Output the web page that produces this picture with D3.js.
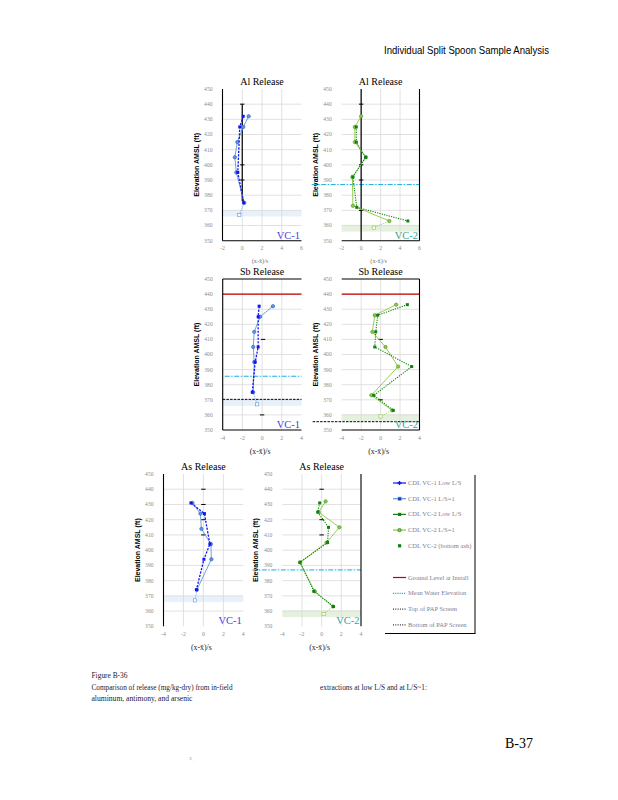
<!DOCTYPE html>
<html>
<head>
<meta charset="utf-8">
<script src="https://cdn.jsdelivr.net/npm/d3@7"></script>
<style>
  body { margin: 0; background: #fff; }
  svg { display: block; }
</style>
</head>
<body>
<script>
// tick labels
var elevTicks = [350, 360, 370, 380, 390, 400, 410, 420, 430, 440, 450];
var alTicks = [-2, 0, 2, 4, 6];
var sbTicks = [-4, -2, 0, 2, 4];

// series values: [ (x - mean)/s , elevation ft ]
var alVC1Low = [[0.1, 432], [-0.25, 425], [-0.45, 395], [0.15, 375]];
var alVC1Ls1 = [[0.65, 432], [0.1, 425], [-0.5, 415], [-0.75, 405], [-0.6, 395], [0.2, 375]];
var alVC1Bot = [[-0.3, 367]];
var alVC2Low = [[-0.5, 425], [-0.5, 415], [0.45, 405], [-0.85, 392], [-0.45, 372], [4.8, 363]];
var alVC2Ls1 = [[0, 432], [-0.65, 425], [-0.65, 415], [0.5, 405], [-0.9, 392], [-0.85, 373], [2.9, 363]];
var alVC2Bot = [[1.3, 358.6]];

var sbVC1Low = [[-0.3, 432], [-0.4, 425], [-0.4, 405], [-0.7, 395], [-1.0, 375]];
var sbVC1Ls1 = [[1.1, 432], [-0.2, 425], [-0.8, 415], [-0.9, 405], [-0.8, 395], [-0.9, 375]];
var sbVC1Bot = [[-0.5, 367]];
var sbVC2Low = [[2.75, 433], [-0.3, 426], [-0.5, 415], [-0.6, 405], [3.2, 392], [-0.7, 373], [1.3, 363]];
var sbVC2Ls1 = [[1.6, 433], [-0.6, 426], [-0.85, 415], [0.5, 405], [1.8, 392], [-0.95, 373], [1.2, 363]];
var sbVC2Bot = [[0, 359]];

var asVC1Low = [[-1.25, 431], [0.1, 424], [0.65, 404], [0.05, 394], [-0.7, 374]];
var asVC1Ls1 = [[-1.1, 431], [-0.3, 424], [-0.2, 414], [0.75, 404], [0.8, 394], [-0.65, 374]];
var asVC1Bot = [[-0.85, 367]];
var asVC2Low = [[-0.2, 431], [-0.4, 425], [0.7, 415], [0.6, 405], [-2.2, 392], [-0.8, 373], [1.2, 363]];
var asVC2Ls1 = [[0.4, 432], [-0.3, 425], [1.8, 415], [0.5, 405], [-2.2, 392], [-0.7, 373], [1.15, 363]];
var asVC2Bot = [[0.2, 358]];

// short black dash marks
var alVC1Marks = [[0, 440], [0, 400], [0, 390]];
var alVC2Marks = [[0, 440], [0, 400], [0, 390], [0, 370]];
var sbVC1Marks = [[0.1, 410], [0, 360]];
var sbVC2Marks = [[0, 410], [0, 370]];
var asVC1Marks = [[0, 440], [0, 430], [0, 420], [0, 410]];
var asVC2Marks = [[0, 440], [0, 420], [0, 410]];

// reference elevations
var groundLevel = 440;
var waterVC1 = 385.6;
var waterVC2 = 387;
var papTopVC1 = 370.3;
var papBottomVC2 = 355.5;
var bandVC1 = [366, 370];
var bandVC2 = [356, 360.5];

var legendLabels = [
  "CDL  VC-1 Low L/S", "CDL  VC-1 L/S=1", "CDL  VC-2 Low L/S", "CDL  VC-2 L/S=1",
  "CDL  VC-2 (bottom ash)", "Ground Level at Install", "Mean Water Elevation",
  "Top of PAP Screen", "Bottom of PAP Screen"
];

var width = 618, height = 800;
var svg = d3.select("body").append("svg").attr("width", width).attr("height", height);

var C = {
  low1: "#1414f0", ls1: "#5b96dc", low2: "#118011", ls2: "#8dc63f",
  red: "#c00000", cyan: "#16aee8", grid: "#d9d9d9", tick: "#8c8c8c"
};

// header
svg.append("text").attr("x", 549).attr("y", 54).attr("text-anchor", "end")
  .attr("textLength", 165).attr("lengthAdjust", "spacingAndGlyphs")
  .style("font-family", "Liberation Sans Narrow, Liberation Sans, sans-serif")
  .style("font-size", "10.5px").text("Individual Split Spoon Sample Analysis");

var panels = [
  { title: "Al Release", well: 1, x0: 222.5, x1: 301.5, y0: 89, y1: 240.7, dom: [-2, 6], ticks: alTicks,
    low: alVC1Low, ls1: alVC1Ls1, bot: alVC1Bot, marks: alVC1Marks, zero: [440, 376],
    band: bandVC1, sides: ["left", "bottom"], small: true },
  { title: "Al Release", well: 2, x0: 341.7, x1: 419.5, y0: 89, y1: 240.7, dom: [-2, 6], ticks: alTicks,
    low: alVC2Low, ls1: alVC2Ls1, bot: alVC2Bot, marks: alVC2Marks, zero: [450, 350],
    band: bandVC2, water: waterVC2, sides: ["right", "bottom"], small: true },
  { title: "Sb Release", well: 1, x0: 222.7, x1: 301.5, y0: 279, y1: 430, dom: [-4, 4], ticks: sbTicks,
    low: sbVC1Low, ls1: sbVC1Ls1, bot: sbVC1Bot, marks: sbVC1Marks,
    band: bandVC1, water: waterVC1, ground: groundLevel, pap: papTopVC1, sides: ["left", "top", "bottom"] },
  { title: "Sb Release", well: 2, x0: 341.7, x1: 419.5, y0: 279, y1: 430, dom: [-4, 4], ticks: sbTicks,
    low: sbVC2Low, ls1: sbVC2Ls1, bot: sbVC2Bot, marks: sbVC2Marks,
    band: bandVC2, ground: groundLevel, pap: papBottomVC2, sides: ["right", "top", "bottom"] },
  { title: "As Release", well: 1, x0: 163.5, x1: 243.3, y0: 474, y1: 626.3, dom: [-4, 4], ticks: sbTicks,
    low: asVC1Low, ls1: asVC1Ls1, bot: asVC1Bot, marks: asVC1Marks,
    band: bandVC1, sides: ["left"] },
  { title: "As Release", well: 2, x0: 282.3, x1: 361, y0: 474, y1: 626.3, dom: [-4, 4], ticks: sbTicks,
    low: asVC2Low, ls1: asVC2Ls1, bot: asVC2Bot, marks: asVC2Marks,
    band: bandVC2, water: waterVC2, sides: ["right"] }
];

panels.forEach(drawPanel);

function drawPanel(p) {
  var g = svg.append("g");
  var x = d3.scaleLinear().domain(p.dom).range([p.x0, p.x1]);
  var y = d3.scaleLinear().domain([350, 450]).range([p.y1, p.y0]);
  var lowCol = p.well === 1 ? C.low1 : C.low2;
  var lsCol = p.well === 1 ? C.ls1 : C.ls2;

  // band
  g.append("rect").attr("x", p.x0).attr("width", p.x1 - p.x0)
    .attr("y", y(p.band[1])).attr("height", y(p.band[0]) - y(p.band[1]))
    .attr("fill", p.well === 1 ? "#e8f0fa" : "#e5f0de");

  // grid
  g.selectAll(".hg").data(elevTicks.slice(1, -1)).enter().append("line")
    .attr("x1", p.x0).attr("x2", p.x1).attr("y1", y).attr("y2", y)
    .attr("stroke", C.grid).attr("stroke-width", 0.8);
  g.selectAll(".vg").data(p.ticks.slice(1, -1)).enter().append("line")
    .attr("y1", p.y0).attr("y2", p.y1).attr("x1", x).attr("x2", x)
    .attr("stroke", C.grid).attr("stroke-width", 0.8);

  // ticks
  g.selectAll(".yl").data(elevTicks).enter().append("text")
    .attr("x", p.x0 - 10).attr("y", function (d) { return y(d) + 1.9; })
    .attr("text-anchor", "end").attr("fill", C.tick)
    .style("font-family", "Liberation Serif, serif").style("font-size", "5.6px")
    .text(function (d) { return d; });
  g.selectAll(".xl").data(p.ticks).enter().append("text")
    .attr("x", x).attr("y", p.y1 + 9.5).attr("text-anchor", "middle").attr("fill", C.tick)
    .style("font-family", "Liberation Serif, serif").style("font-size", "5.8px")
    .text(function (d) { return d; });

  // titles
  g.append("text").attr("x", (p.x0 + p.x1) / 2).attr("y", p.y0 - 4.5).attr("text-anchor", "middle")
    .style("font-family", "Liberation Serif, serif").style("font-size", "10px").text(p.title);
  g.append("text").attr("x", (p.x0 + p.x1) / 2 - 2).attr("y", p.y1 + (p.small ? 22 : 24))
    .attr("text-anchor", "middle").attr("fill", p.small ? "#777" : "#222")
    .style("font-family", "Liberation Serif, serif").style("font-size", p.small ? "6.2px" : "7.8px")
    .text("(x-x\u0304)/s");
  var cy = (p.y0 + p.y1) / 2;
  g.append("text").attr("transform", "translate(" + (p.x0 - 24) + "," + cy + ") rotate(-90)")
    .attr("text-anchor", "middle")
    .style("font-family", "Liberation Sans, sans-serif").style("font-weight", "bold").style("font-size", "7px")
    .text("Elevation AMSL (ft)");

  // reference lines
  if (p.ground !== undefined) {
    g.append("line").attr("x1", p.x0).attr("x2", p.x1).attr("y1", y(p.ground)).attr("y2", y(p.ground))
      .attr("stroke", C.red).attr("stroke-width", 1.2);
  }
  if (p.water !== undefined) {
    var wx = p.well === 2 ? p.x0 - 30 : p.x0 + 2;
    g.append("line").attr("x1", wx).attr("x2", p.x1).attr("y1", y(p.water)).attr("y2", y(p.water))
      .attr("stroke", C.cyan).attr("stroke-width", 1).attr("stroke-dasharray", "5,1.5,1.5,1.5");
  }
  if (p.pap !== undefined) {
    var px = p.well === 2 ? p.x0 - 29 : p.x0;
    g.append("line").attr("x1", px).attr("x2", p.x1).attr("y1", y(p.pap)).attr("y2", y(p.pap))
      .attr("stroke", "#000").attr("stroke-width", 1).attr("stroke-dasharray", "2.5,1.2");
  }

  // zero line and dash marks
  if (p.zero) {
    g.append("line").attr("x1", x(0)).attr("x2", x(0)).attr("y1", y(p.zero[0])).attr("y2", y(p.zero[1]))
      .attr("stroke", "#000").attr("stroke-width", 1.2);
  }
  g.selectAll(".mk").data(p.marks).enter().append("line")
    .attr("x1", function (d) { return x(d[0]) - 2.2; }).attr("x2", function (d) { return x(d[0]) + 2.2; })
    .attr("y1", function (d) { return y(d[1]); }).attr("y2", function (d) { return y(d[1]); })
    .attr("stroke", "#000").attr("stroke-width", 1);

  // borders
  var sides = {
    left: [p.x0, p.y0, p.x0, p.y1], right: [p.x1, p.y0, p.x1, p.y1],
    top: [p.x0, p.y0, p.x1, p.y0], bottom: [p.x0, p.y1, p.x1, p.y1]
  };
  p.sides.forEach(function (s) {
    var c = sides[s];
    g.append("line").attr("x1", c[0]).attr("y1", c[1]).attr("x2", c[2]).attr("y2", c[3])
      .attr("stroke", "#000").attr("stroke-width", 1.1);
  });

  var line = d3.line().x(function (d) { return x(d[0]); }).y(function (d) { return y(d[1]); });

  // bottom sample: dotted link from the deepest L/S=1 point
  var last = p.ls1[p.ls1.length - 1];
  g.append("path").attr("d", line([last, p.bot[0]])).attr("fill", "none")
    .attr("stroke", lsCol).attr("stroke-width", 0.8).attr("stroke-dasharray", "1,1");
  g.selectAll(".bt").data(p.bot).enter().append("rect")
    .attr("x", function (d) { return x(d[0]) - 1.6; }).attr("y", function (d) { return y(d[1]) - 1.6; })
    .attr("width", 3.2).attr("height", 3.2).attr("fill", "#fff").attr("stroke", lsCol).attr("stroke-width", 0.6);

  // L/S=1 series
  g.append("path").attr("d", line(p.ls1)).attr("fill", "none").attr("stroke", lsCol).attr("stroke-width", 0.9);
  g.selectAll(".ls").data(p.ls1).enter().append("circle")
    .attr("cx", function (d) { return x(d[0]); }).attr("cy", function (d) { return y(d[1]); })
    .attr("r", 1.7).attr("fill", lsCol).attr("stroke", p.well === 1 ? "#2b5fc0" : "#4a9a2a").attr("stroke-width", 0.6);

  // Low L/S series
  g.append("path").attr("d", line(p.low)).attr("fill", "none").attr("stroke", lowCol)
    .attr("stroke-width", p.well === 1 ? 1.3 : 1.1).attr("stroke-dasharray", p.well === 1 ? "2.2,1.3" : "1.2,1.2");
  g.selectAll(".lo").data(p.low).enter().append("rect")
    .attr("x", function (d) { return x(d[0]) - 1.5; }).attr("y", function (d) { return y(d[1]) - 1.5; })
    .attr("width", 3).attr("height", 3).attr("fill", lowCol);

  // well label
  g.append("text").attr("x", p.x1 - 1.5).attr("y", p.y1 - 2).attr("text-anchor", "end")
    .attr("fill", p.well === 1 ? "#4a3ee0" : "#33a596")
    .style("font-family", "Liberation Serif, serif").style("font-size", "10.5px")
    .text(p.well === 1 ? "VC-1" : "VC-2");
}

// legend
var leg = svg.append("g");
var legKinds = ["low1", "ls1", "low2", "ls2", "ash", "red", "cyan", "dot", "dot"];
legendLabels.forEach(function (lab, i) {
  var yy = i < 5 ? 483 + i * 15.7 : 577.5 + (i - 5) * 15.8;
  var k = legKinds[i];
  var col = { low1: C.low1, ls1: C.ls1, low2: C.low2, ls2: C.ls2, ash: C.low2, red: C.red, cyan: C.cyan, dot: "#000" }[k];
  if (k !== "ash") {
    leg.append("line").attr("x1", 393).attr("x2", 406).attr("y1", yy).attr("y2", yy)
      .attr("stroke", col).attr("stroke-width", k === "dot" ? 1 : 1.2)
      .attr("stroke-dasharray", k === "cyan" ? "1.2,1" : (k === "dot" ? "1,1.3" : null));
  }
  if (k === "low1") {
    leg.append("path").attr("transform", "translate(399.5," + yy + ")")
      .attr("d", d3.symbol().type(d3.symbolCross).size(10)()).attr("fill", col);
  } else if (k === "ls1") {
    leg.append("rect").attr("x", 398).attr("y", yy - 1.6).attr("width", 3.2).attr("height", 3.2)
      .attr("fill", "#2030c8").attr("stroke", col).attr("stroke-width", 0.6);
  } else if (k === "low2" || k === "ash") {
    leg.append("rect").attr("x", 398).attr("y", yy - 1.6).attr("width", 3.2).attr("height", 3.2).attr("fill", col);
  } else if (k === "ls2") {
    leg.append("circle").attr("cx", 399.5).attr("cy", yy).attr("r", 1.7)
      .attr("fill", C.ls2).attr("stroke", C.low2).attr("stroke-width", 0.7);
  }
  leg.append("text").attr("x", 408).attr("y", yy + 2).attr("fill", "#7d7d94")
    .style("font-family", "Liberation Serif, serif").style("font-size", "6.5px").text(lab);
});
leg.append("line").attr("x1", 475).attr("x2", 475).attr("y1", 475).attr("y2", 633.5)
  .attr("stroke", "#000").attr("stroke-width", 1);
leg.append("line").attr("x1", 385).attr("x2", 475.5).attr("y1", 633.5).attr("y2", 633.5)
  .attr("stroke", "#000").attr("stroke-width", 1);

// caption
var cap = svg.append("g").style("font-family", "Liberation Serif, serif").style("font-size", "8.6px").attr("fill", "#1a1a33");
cap.append("text").attr("x", 91.5).attr("y", 678).attr("textLength", 36).attr("lengthAdjust", "spacingAndGlyphs").text("Figure B-36");
cap.append("text").attr("x", 91.5).attr("y", 689.5).attr("textLength", 141).attr("lengthAdjust", "spacingAndGlyphs")
  .text("Comparison of release (mg/kg-dry) from in-field");
cap.append("text").attr("x", 320).attr("y", 689.5).attr("textLength", 107).attr("lengthAdjust", "spacingAndGlyphs")
  .text("extractions at low L/S and at L/S~1:");
cap.append("text").attr("x", 91.5).attr("y", 701).attr("textLength", 101).attr("lengthAdjust", "spacingAndGlyphs")
  .text("aluminum, antimony, and arsenic");

svg.append("text").attr("x", 519).attr("y", 748).attr("text-anchor", "middle")
  .style("font-family", "Liberation Serif, serif").style("font-size", "14px").text("B-37");
svg.append("text").attr("x", 187).attr("y", 760).attr("fill", "#777")
  .style("font-family", "Liberation Serif, serif").style("font-size", "4.5px").text("\u02c8    2    \u02cc");
</script>
</body>
</html>
